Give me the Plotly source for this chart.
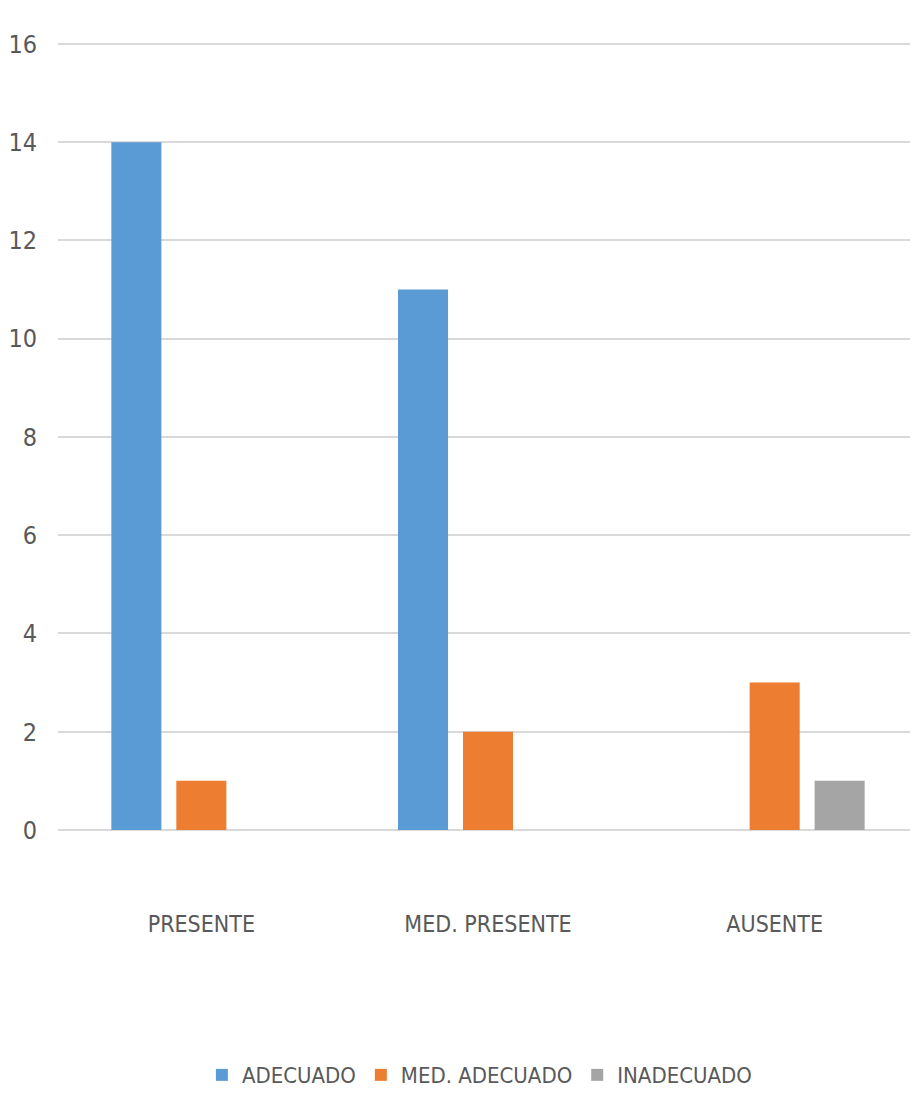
import plotly.graph_objects as go

categories = ["PRESENTE", "MED. PRESENTE", "AUSENTE"]
series_names = ["ADECUADO", "MED. ADECUADO", "INADECUADO"]
adecuado = [14, 11, 0]
med_adecuado = [1, 2, 3]
inadecuado = [0, 0, 1]
y_ticks = [0, 2, 4, 6, 8, 10, 12, 14, 16]

colors = ["#5B9BD5", "#ED7D31", "#A5A5A5"]
FONT = "DejaVu Sans Condensed, Liberation Sans Narrow, sans-serif"
TXT = "#595959"

fig = go.Figure()
for name, vals, col in zip(series_names, [adecuado, med_adecuado, inadecuado], colors):
    fig.add_trace(go.Bar(name=name, x=categories, y=vals, marker=dict(color=col, line=dict(width=0))))

fig.update_layout(
    width=910, height=1089,
    margin=dict(l=50, r=0, t=34, b=267, autoexpand=False),
    paper_bgcolor="white", plot_bgcolor="white",
    barmode="group", bargap=0.32, bargroupgap=0.23,
    font=dict(family=FONT, color=TXT),
    legend=dict(orientation="h", x=0.49, xanchor="center", y=-0.311, yanchor="middle",
                font=dict(size=22, family=FONT, color=TXT), itemwidth=30,
                traceorder="normal"),
    xaxis=dict(showgrid=False, showline=False, ticks="", tickfont=dict(size=23, family=FONT, color=TXT),
               ticklabelstandoff=78),
    yaxis=dict(range=[0, 16.04], tickvals=y_ticks, showgrid=True, gridcolor="#D9D9D9", gridwidth=2,
               zeroline=True, zerolinecolor="#D9D9D9", zerolinewidth=2, showline=False, ticks="",
               tickfont=dict(size=25, family=FONT, color=TXT), ticklabelstandoff=20),
)

fig.write_html("out.html")
